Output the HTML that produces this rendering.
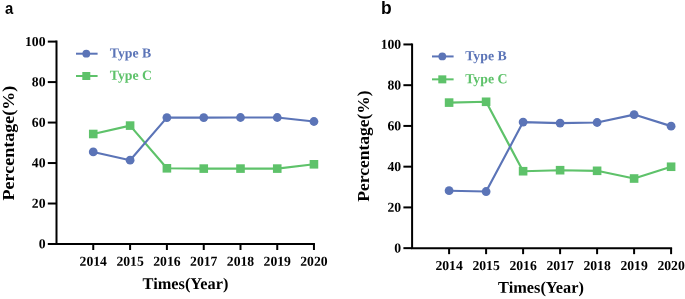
<!DOCTYPE html>
<html><head><meta charset="utf-8"><style>
html,body{margin:0;padding:0;background:#fff}
svg{display:block;will-change:transform}
.tk{font:bold 13.7px "Liberation Serif",serif;fill:#000}
.lg{font:bold 13.8px "Liberation Serif",serif}
.al{font:bold 16.35px "Liberation Serif",serif;fill:#000}
.pn{font-family:"Liberation Sans",sans-serif;font-weight:bold;fill:#000}
</style></head><body>
<svg width="685" height="299" viewBox="0 0 685 299">
<rect width="685" height="299" fill="#fff"/>
<text transform="translate(5 13.6) scale(0.9 1)" class="pn" font-size="16.5">a</text>
<text transform="translate(381 13.9) scale(0.92 1)" class="pn" font-size="19">b</text>
<path d="M56.5 40.6 V244.0 H314.95" fill="none" stroke="#000" stroke-width="2" stroke-linecap="butt" stroke-linejoin="miter"/>
<line x1="47.8" x2="56.5" y1="244.00" y2="244.00" stroke="#000" stroke-width="2"/>
<text transform="rotate(0.03 45.5 248.30)" x="45.5" y="248.30" text-anchor="end" class="tk">0</text>
<line x1="47.8" x2="56.5" y1="203.52" y2="203.52" stroke="#000" stroke-width="2"/>
<text transform="rotate(0.03 45.5 207.82)" x="45.5" y="207.82" text-anchor="end" class="tk">20</text>
<line x1="47.8" x2="56.5" y1="163.04" y2="163.04" stroke="#000" stroke-width="2"/>
<text transform="rotate(0.03 45.5 167.34)" x="45.5" y="167.34" text-anchor="end" class="tk">40</text>
<line x1="47.8" x2="56.5" y1="122.56" y2="122.56" stroke="#000" stroke-width="2"/>
<text transform="rotate(0.03 45.5 126.86)" x="45.5" y="126.86" text-anchor="end" class="tk">60</text>
<line x1="47.8" x2="56.5" y1="82.08" y2="82.08" stroke="#000" stroke-width="2"/>
<text transform="rotate(0.03 45.5 86.38)" x="45.5" y="86.38" text-anchor="end" class="tk">80</text>
<line x1="47.8" x2="56.5" y1="41.60" y2="41.60" stroke="#000" stroke-width="2"/>
<text transform="rotate(0.03 45.5 45.90)" x="45.5" y="45.90" text-anchor="end" class="tk">100</text>
<line x1="93.25" x2="93.25" y1="244.0" y2="250.0" stroke="#000" stroke-width="2"/>
<text transform="rotate(0.03 93.25 265.7)" x="93.25" y="265.7" text-anchor="middle" class="tk">2014</text>
<line x1="130.1" x2="130.1" y1="244.0" y2="250.0" stroke="#000" stroke-width="2"/>
<text transform="rotate(0.03 130.1 265.7)" x="130.1" y="265.7" text-anchor="middle" class="tk">2015</text>
<line x1="166.9" x2="166.9" y1="244.0" y2="250.0" stroke="#000" stroke-width="2"/>
<text transform="rotate(0.03 166.9 265.7)" x="166.9" y="265.7" text-anchor="middle" class="tk">2016</text>
<line x1="203.75" x2="203.75" y1="244.0" y2="250.0" stroke="#000" stroke-width="2"/>
<text transform="rotate(0.03 203.75 265.7)" x="203.75" y="265.7" text-anchor="middle" class="tk">2017</text>
<line x1="240.5" x2="240.5" y1="244.0" y2="250.0" stroke="#000" stroke-width="2"/>
<text transform="rotate(0.03 240.5 265.7)" x="240.5" y="265.7" text-anchor="middle" class="tk">2018</text>
<line x1="277.25" x2="277.25" y1="244.0" y2="250.0" stroke="#000" stroke-width="2"/>
<text transform="rotate(0.03 277.25 265.7)" x="277.25" y="265.7" text-anchor="middle" class="tk">2019</text>
<line x1="313.95" x2="313.95" y1="244.0" y2="250.0" stroke="#000" stroke-width="2"/>
<text transform="rotate(0.03 313.95 265.7)" x="313.95" y="265.7" text-anchor="middle" class="tk">2020</text>
<polyline points="93.25,134.0 130.1,125.6 166.9,168.3 203.75,168.6 240.5,168.6 277.25,168.6 313.95,164.3" fill="none" stroke="#5ec26a" stroke-width="2.15" stroke-linejoin="round"/>
<polyline points="93.25,151.95 130.1,160.2 166.9,117.6 203.75,117.55 240.5,117.5 277.25,117.5 313.95,121.5" fill="none" stroke="#5b74b7" stroke-width="2.15" stroke-linejoin="round"/>
<rect x="88.95" y="129.70" width="8.6" height="8.6" fill="#5ec26a"/>
<rect x="125.80" y="121.30" width="8.6" height="8.6" fill="#5ec26a"/>
<rect x="162.60" y="164.00" width="8.6" height="8.6" fill="#5ec26a"/>
<rect x="199.45" y="164.30" width="8.6" height="8.6" fill="#5ec26a"/>
<rect x="236.20" y="164.30" width="8.6" height="8.6" fill="#5ec26a"/>
<rect x="272.95" y="164.30" width="8.6" height="8.6" fill="#5ec26a"/>
<rect x="309.65" y="160.00" width="8.6" height="8.6" fill="#5ec26a"/>
<circle cx="93.25" cy="151.95" r="4.4" fill="#5b74b7"/>
<circle cx="130.1" cy="160.2" r="4.4" fill="#5b74b7"/>
<circle cx="166.9" cy="117.6" r="4.4" fill="#5b74b7"/>
<circle cx="203.75" cy="117.55" r="4.4" fill="#5b74b7"/>
<circle cx="240.5" cy="117.5" r="4.4" fill="#5b74b7"/>
<circle cx="277.25" cy="117.5" r="4.4" fill="#5b74b7"/>
<circle cx="313.95" cy="121.5" r="4.4" fill="#5b74b7"/>
<line x1="76.0" x2="97.6" y1="53.7" y2="53.7" stroke="#5b74b7" stroke-width="2"/><circle cx="86.3" cy="53.7" r="3.9" fill="#5b74b7"/>
<line x1="76.0" x2="97.6" y1="76" y2="76" stroke="#5ec26a" stroke-width="2"/><rect x="82.3" y="72" width="8" height="8" fill="#5ec26a"/>
<text transform="rotate(0.03 109.8 57.6)" x="109.8" y="57.6" class="lg" fill="#5b74b7">Type B</text>
<text transform="rotate(0.03 109.8 79.7)" x="109.8" y="79.7" class="lg" fill="#5ec26a">Type C</text>
<text transform="translate(13.9 143.1) rotate(-90) scale(1.103 1)" text-anchor="middle" class="al">Percentage(%)</text>
<text transform="rotate(0.03 185.5 289)" x="185.5" y="289" text-anchor="middle" class="al">Times(Year)</text>
<path d="M412.1 43.45 V248.15 H672.1" fill="none" stroke="#000" stroke-width="2" stroke-linecap="butt" stroke-linejoin="miter"/>
<line x1="403.40000000000003" x2="412.1" y1="248.15" y2="248.15" stroke="#000" stroke-width="2"/>
<text transform="rotate(0.03 401.2 252.45)" x="401.2" y="252.45" text-anchor="end" class="tk">0</text>
<line x1="403.40000000000003" x2="412.1" y1="207.41" y2="207.41" stroke="#000" stroke-width="2"/>
<text transform="rotate(0.03 401.2 211.71)" x="401.2" y="211.71" text-anchor="end" class="tk">20</text>
<line x1="403.40000000000003" x2="412.1" y1="166.67" y2="166.67" stroke="#000" stroke-width="2"/>
<text transform="rotate(0.03 401.2 170.97)" x="401.2" y="170.97" text-anchor="end" class="tk">40</text>
<line x1="403.40000000000003" x2="412.1" y1="125.93" y2="125.93" stroke="#000" stroke-width="2"/>
<text transform="rotate(0.03 401.2 130.23)" x="401.2" y="130.23" text-anchor="end" class="tk">60</text>
<line x1="403.40000000000003" x2="412.1" y1="85.19" y2="85.19" stroke="#000" stroke-width="2"/>
<text transform="rotate(0.03 401.2 89.49)" x="401.2" y="89.49" text-anchor="end" class="tk">80</text>
<line x1="403.40000000000003" x2="412.1" y1="44.45" y2="44.45" stroke="#000" stroke-width="2"/>
<text transform="rotate(0.03 401.2 48.75)" x="401.2" y="48.75" text-anchor="end" class="tk">100</text>
<line x1="449.1" x2="449.1" y1="248.15" y2="254.15" stroke="#000" stroke-width="2"/>
<text transform="rotate(0.03 449.1 270.0)" x="449.1" y="270.0" text-anchor="middle" class="tk">2014</text>
<line x1="486.1" x2="486.1" y1="248.15" y2="254.15" stroke="#000" stroke-width="2"/>
<text transform="rotate(0.03 486.1 270.0)" x="486.1" y="270.0" text-anchor="middle" class="tk">2015</text>
<line x1="523.1" x2="523.1" y1="248.15" y2="254.15" stroke="#000" stroke-width="2"/>
<text transform="rotate(0.03 523.1 270.0)" x="523.1" y="270.0" text-anchor="middle" class="tk">2016</text>
<line x1="560.1" x2="560.1" y1="248.15" y2="254.15" stroke="#000" stroke-width="2"/>
<text transform="rotate(0.03 560.1 270.0)" x="560.1" y="270.0" text-anchor="middle" class="tk">2017</text>
<line x1="597.1" x2="597.1" y1="248.15" y2="254.15" stroke="#000" stroke-width="2"/>
<text transform="rotate(0.03 597.1 270.0)" x="597.1" y="270.0" text-anchor="middle" class="tk">2018</text>
<line x1="634.1" x2="634.1" y1="248.15" y2="254.15" stroke="#000" stroke-width="2"/>
<text transform="rotate(0.03 634.1 270.0)" x="634.1" y="270.0" text-anchor="middle" class="tk">2019</text>
<line x1="671.1" x2="671.1" y1="248.15" y2="254.15" stroke="#000" stroke-width="2"/>
<text transform="rotate(0.03 671.1 270.0)" x="671.1" y="270.0" text-anchor="middle" class="tk">2020</text>
<polyline points="449.1,102.6 486.1,101.79 523.1,171.22 560.1,170.2 597.1,170.81 634.1,178.52 671.1,166.75" fill="none" stroke="#5ec26a" stroke-width="2.15" stroke-linejoin="round"/>
<polyline points="449.1,190.7 486.1,191.52 523.1,122.09 560.1,123.11 597.1,122.5 634.1,114.58 671.1,126.15" fill="none" stroke="#5b74b7" stroke-width="2.15" stroke-linejoin="round"/>
<rect x="444.80" y="98.30" width="8.6" height="8.6" fill="#5ec26a"/>
<rect x="481.80" y="97.49" width="8.6" height="8.6" fill="#5ec26a"/>
<rect x="518.80" y="166.92" width="8.6" height="8.6" fill="#5ec26a"/>
<rect x="555.80" y="165.90" width="8.6" height="8.6" fill="#5ec26a"/>
<rect x="592.80" y="166.51" width="8.6" height="8.6" fill="#5ec26a"/>
<rect x="629.80" y="174.22" width="8.6" height="8.6" fill="#5ec26a"/>
<rect x="666.80" y="162.45" width="8.6" height="8.6" fill="#5ec26a"/>
<circle cx="449.1" cy="190.7" r="4.4" fill="#5b74b7"/>
<circle cx="486.1" cy="191.52" r="4.4" fill="#5b74b7"/>
<circle cx="523.1" cy="122.09" r="4.4" fill="#5b74b7"/>
<circle cx="560.1" cy="123.11" r="4.4" fill="#5b74b7"/>
<circle cx="597.1" cy="122.5" r="4.4" fill="#5b74b7"/>
<circle cx="634.1" cy="114.58" r="4.4" fill="#5b74b7"/>
<circle cx="671.1" cy="126.15" r="4.4" fill="#5b74b7"/>
<line x1="432.0" x2="453.6" y1="56.45" y2="56.45" stroke="#5b74b7" stroke-width="2"/><circle cx="442.3" cy="56.45" r="3.9" fill="#5b74b7"/>
<line x1="432.0" x2="453.6" y1="79.35" y2="79.35" stroke="#5ec26a" stroke-width="2"/><rect x="438.3" y="75.35" width="8" height="8" fill="#5ec26a"/>
<text transform="rotate(0.03 465.2 60.35)" x="465.2" y="60.35" class="lg" fill="#5b74b7">Type B</text>
<text transform="rotate(0.03 465.2 83.3)" x="465.2" y="83.3" class="lg" fill="#5ec26a">Type C</text>
<text transform="translate(369.3 146.0) rotate(-90) scale(1.07 1)" text-anchor="middle" class="al">Percentage(%)</text>
<text transform="rotate(0.03 541 292.7)" x="541" y="292.7" text-anchor="middle" class="al">Times(Year)</text>
</svg>
</body></html>
